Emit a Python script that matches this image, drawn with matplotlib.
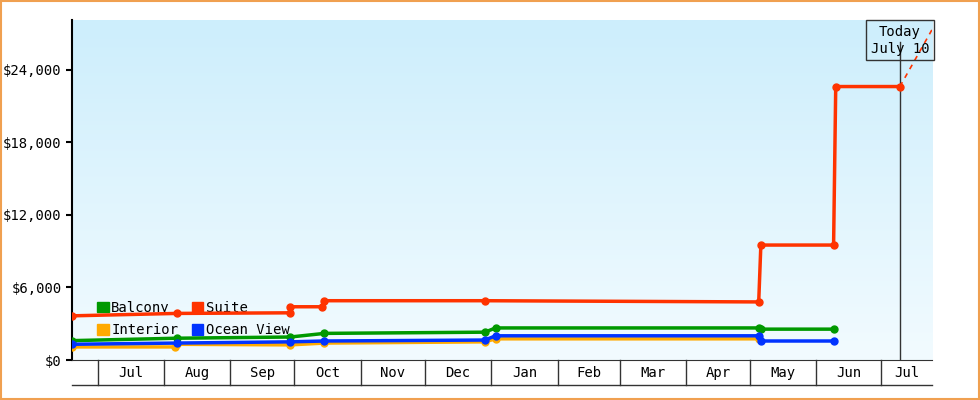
import matplotlib
matplotlib.use('Agg')
import matplotlib.pyplot as plt
import numpy as np
import pandas as pd

# price history per cabin type (date, price)
suite_dates = ['2023-06-19', '2023-08-07', '2023-09-29', '2023-09-29', '2023-10-14', '2023-10-15',
               '2023-12-29', '2024-05-05', '2024-05-06', '2024-06-09', '2024-06-10', '2024-07-10']
suite_vals = [3650, 3850, 3900, 4400, 4400, 4900, 4900, 4800, 9500, 9500, 22600, 22600]
balcony_dates = ['2023-06-19', '2023-08-07', '2023-09-29', '2023-10-15', '2023-12-29', '2024-01-03',
                 '2024-05-05', '2024-05-06', '2024-06-09']
balcony_vals = [1600, 1800, 1900, 2200, 2300, 2650, 2650, 2550, 2550]
interior_dates = ['2023-06-19', '2023-08-06', '2023-08-07', '2023-09-29', '2023-10-15', '2023-12-29',
                  '2024-01-03', '2024-05-05']
interior_vals = [1080, 1080, 1300, 1250, 1400, 1500, 1750, 1750]
ocean_dates = ['2023-06-19', '2023-08-07', '2023-09-29', '2023-10-15', '2023-12-29', '2024-01-03',
               '2024-05-05', '2024-05-06', '2024-06-09']
ocean_vals = [1300, 1400, 1500, 1570, 1650, 2000, 2000, 1570, 1570]
forecast_dates = ['2024-07-10', '2024-07-25']
forecast_vals = [22600, 27300]
months = ['Jul', 'Aug', 'Sep', 'Oct', 'Nov', 'Dec', 'Jan', 'Feb', 'Mar', 'Apr', 'May', 'Jun', 'Jul']
month_starts = pd.date_range('2023-07-01', '2024-07-01', freq='MS')
today = '2024-07-10'
x_min, x_max = pd.Timestamp('2023-06-19'), pd.Timestamp('2024-07-25')

plt.rcParams['font.family'] = 'DejaVu Sans Mono'
fig = plt.figure(figsize=(9.8, 4.0), dpi=100)
fig.patches.append(plt.Rectangle((0.001, 0.002), 0.998, 0.996, transform=fig.transFigure,
                                 fill=False, edgecolor='#f0a050', lw=1.5))
ax = fig.add_axes([72/980, 40/400, 860/980, 340/400])

ax.imshow(np.linspace(0, 1, 256).reshape(-1, 1), extent=[0, 1, 0, 1], transform=ax.transAxes,
          aspect='auto', cmap=matplotlib.colors.LinearSegmentedColormap.from_list('bg', ['#cdeefc', '#f2fbff']),
          zorder=0)

def d(lst):
    return pd.to_datetime(lst)

series = [('Balcony', balcony_dates, balcony_vals, '#009900'),
          ('Interior', interior_dates, interior_vals, '#ffaa00'),
          ('Suite', suite_dates, suite_vals, '#ff3300'),
          ('Ocean View', ocean_dates, ocean_vals, '#0033ff')]
for name, xs, ys, c in series:
    ax.plot(d(xs), ys, color=c, lw=2.5, marker='o', ms=5, zorder=3)
ax.plot(d(forecast_dates), forecast_vals, color='#ff3300', lw=1.2, ls=(0, (3, 3)), zorder=3)

handles = [plt.Rectangle((0, 0), 1, 1, color=c) for _, _, _, c in series]
leg = ax.legend(handles, [s[0] for s in series], ncol=2, loc='lower left', bbox_to_anchor=(0.015, 0.03),
                frameon=False, handlelength=0.8, handleheight=0.8, handletextpad=0.2, columnspacing=1.0,
                fontsize=10, labelspacing=0.6)
leg.set_zorder(2)

ax.set_xlim(x_min, x_max)
ax.set_ylim(0, 28100)
ax.set_yticks(range(0, 24001, 6000))
ax.set_yticklabels(['$%s' % format(v, ',') for v in range(0, 24001, 6000)], fontsize=10)
ax.tick_params(axis='y', length=4, width=1.5)
ax.set_xticks([])
for s in ['top', 'right']:
    ax.spines[s].set_visible(False)
ax.spines['left'].set_linewidth(1.5)
ax.spines['bottom'].set_color('#333333')

# month cells below the axis
trans = ax.get_xaxis_transform()
for m in month_starts:
    ax.plot([m, m], [0, -25/340], transform=trans, color='#333333', lw=1, clip_on=False)
ax.plot([x_min, x_max], [-25/340, -25/340], transform=trans, color='#333333', lw=1, clip_on=False)
edges = list(month_starts) + [x_max]
for i, lab in enumerate(months):
    mid = edges[i] + (edges[i + 1] - edges[i]) / 2
    ax.text(mid, -13/340, lab, transform=trans, ha='center', va='center', fontsize=10)

# today marker
ax.axvline(pd.Timestamp(today), ymax=(380 - 62) / 340, color='#333333', lw=1, zorder=2)
ax.text(pd.Timestamp(today), 0.94, 'Today\nJuly 10', transform=trans, ha='center', va='center', fontsize=10,
        bbox=dict(boxstyle='square,pad=0.35', fc='none', ec='#333333'), zorder=4)

fig.savefig('out.png', dpi=100)
